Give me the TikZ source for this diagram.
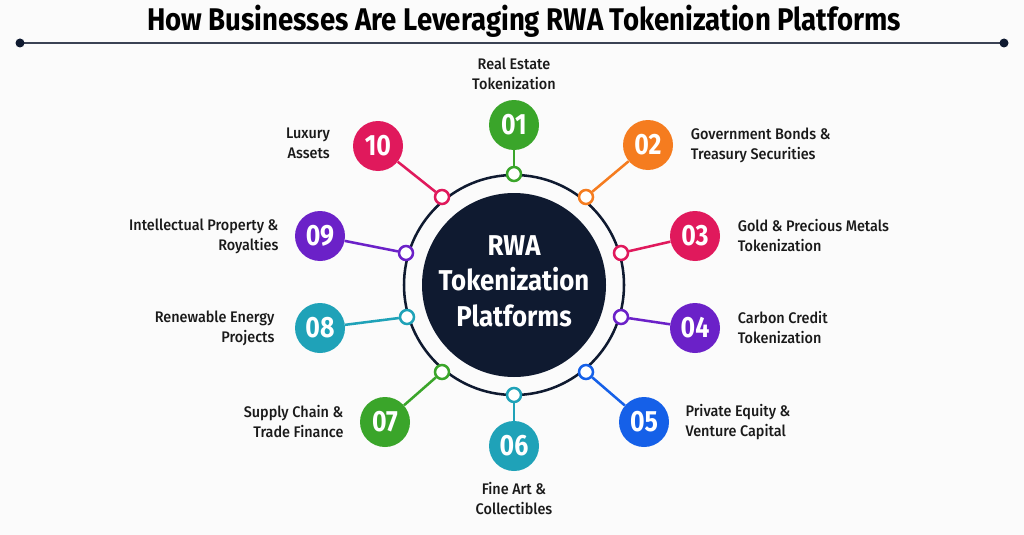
\documentclass[tikz,border=0pt]{standalone}
\usepackage{fontspec}
\setmainfont{Fira Sans}
\newfontfamily\headfont[FakeStretch=0.88]{Fira Sans}
\newfontfamily\hubfont[FakeStretch=0.9]{Fira Sans}
\newfontfamily\numfont[FakeStretch=0.85]{Fira Sans}
\newfontfamily\lblfont[FakeStretch=0.94,UprightFont={* Medium}]{Fira Sans}
\usetikzlibrary{positioning}

\definecolor{navy}{HTML}{0F1A30}
\definecolor{rulegray}{HTML}{3B4254}
\definecolor{cgreen}{HTML}{3AA52A}
\definecolor{corange}{HTML}{F57C1F}
\definecolor{ccrimson}{HTML}{E0195C}
\definecolor{cpurple}{HTML}{6B21C8}
\definecolor{cblue}{HTML}{1560E8}
\definecolor{cteal}{HTML}{1FA2B8}
\definecolor{inkblack}{HTML}{1A1A1A}

\tikzset{
  numdot/.style={circle,fill=#1,minimum size=37.5pt,inner sep=0pt,
    text=white,font=\numfont\bfseries\fontsize{22}{22}\selectfont},
  ringdot/.style={circle,draw=#1,fill=white,line width=1.9pt,
    minimum size=10.5pt,inner sep=0pt},
  link/.style={draw=#1,line width=1.9pt},
  lbl/.style={text=inkblack,inner sep=0pt,
    font=\lblfont\fontsize{11.5}{15}\selectfont},
}

\begin{document}
\begin{tikzpicture}[x=0.75pt,y=-0.75pt]
\useasboundingbox (0,0) rectangle (1024,535);
\fill[white!97!gray] (0,0) rectangle (1024,535);

% heading
\node[font=\headfont\bfseries\fontsize{23.5}{23.5}\selectfont,text=black] (head) at (524,21)
  {How Businesses Are Leveraging RWA Tokenization Platforms};
\coordinate (rl) at (20,43);
\coordinate (rr) at (1004,43);
\draw[rulegray,line width=2.2pt] (rl) -- (rr);
\fill[navy] (rl) circle (4.5) (rr) circle (4.5);

% hub
\node[circle,fill=navy,minimum size=138pt,inner sep=0pt] (hub) at (514,285) {};
\node[text=white,align=center,inner sep=0pt,
  font=\hubfont\bfseries\fontsize{21.5}{26.5}\selectfont] (hubtext) at (514,281)
  {RWA\\Tokenization\\Platforms};
\draw[navy,line width=1.9pt] (hub.center) circle (110);

% dots on the ring
\node[ringdot=cgreen]    (d1)  at (514,174) {};
\node[ringdot=corange]   (d2)  at (586,197) {};
\node[ringdot=ccrimson]  (d3)  at (621,253) {};
\node[ringdot=cpurple]   (d4)  at (621,317) {};
\node[ringdot=cblue]     (d5)  at (586,372) {};
\node[ringdot=cteal]     (d6)  at (514,395) {};
\node[ringdot=cgreen]    (d7)  at (442,372) {};
\node[ringdot=cteal]     (d8)  at (407,317) {};
\node[ringdot=cpurple]   (d9)  at (406,253) {};
\node[ringdot=ccrimson]  (d10) at (442,197) {};

% numbered circles
\node[numdot=cgreen]    (b1)  at (514,125) {01};
\node[numdot=corange]   (b2)  at (648,145) {02};
\node[numdot=ccrimson]  (b3)  at (695,236) {03};
\node[numdot=cpurple]   (b4)  at (695,328) {04};
\node[numdot=cblue]     (b5)  at (644,422) {05};
\node[numdot=cteal]     (b6)  at (514,446) {06};
\node[numdot=cgreen]    (b7)  at (385,422) {07};
\node[numdot=cteal]     (b8)  at (320,328) {08};
\node[numdot=cpurple]   (b9)  at (320,236) {09};
\node[numdot=ccrimson]  (b10) at (378,146) {10};

\draw[link=cgreen]   (b1) -- (d1);
\draw[link=corange]  (b2) -- (d2);
\draw[link=ccrimson] (b3) -- (d3);
\draw[link=cpurple]  (b4) -- (d4);
\draw[link=cblue]    (b5) -- (d5);
\draw[link=cteal]    (b6) -- (d6);
\draw[link=cgreen]   (b7) -- (d7);
\draw[link=cteal]    (b8) -- (d8);
\draw[link=cpurple]  (b9) -- (d9);
\draw[link=ccrimson] (b10) -- (d10);

% labels
\node[lbl,align=center,above=7pt of b1] (t1) {Real Estate\\Tokenization};
\node[lbl,align=left,right=13pt of b2] (t2) {Government Bonds \&\\Treasury Securities};
\node[lbl,align=left,right=13pt of b3] (t3) {Gold \& Precious Metals\\Tokenization};
\node[lbl,align=left,right=13pt of b4] (t4) {Carbon Credit\\Tokenization};
\node[lbl,align=left,right=12pt of b5] (t5) {Private Equity \&\\Venture Capital};
\node[lbl,align=center,below=8pt of b6] (t6) {Fine Art \&\\Collectibles};
\node[lbl,align=right,left=12pt of b7] (t7) {Supply Chain \&\\Trade Finance};
\node[lbl,align=right,left=15pt of b8] (t8) {Renewable Energy\\Projects};
\node[lbl,align=right,left=12pt of b9] (t9) {Intellectual Property \&\\Royalties};
\node[lbl,align=right,left=17pt of b10,yshift=2pt] (t10) {Luxury\\Assets};

\end{tikzpicture}
\end{document}
